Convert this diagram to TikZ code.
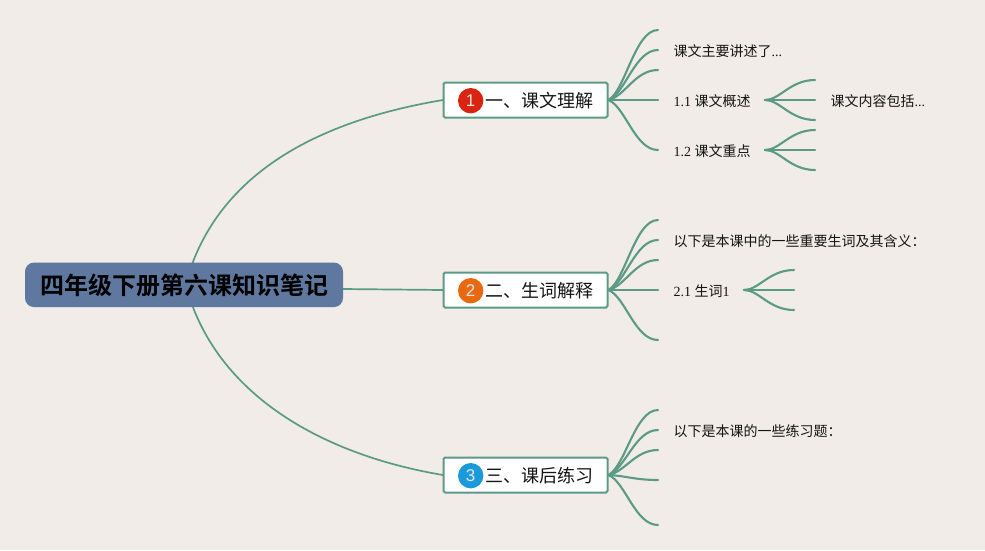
\documentclass[tikz,border=0pt]{standalone}
\usepackage{fontspec}
\usetikzlibrary{calc}
\setmainfont{Liberation Serif}
\newfontfamily\cjk{Noto Sans CJK SC}
\newfontfamily\cjkbold{Noto Sans CJK SC Bold}
\newfontfamily\numfont{Liberation Sans}
\definecolor{bgc}{HTML}{F1ECE7}
\definecolor{linec}{HTML}{5B9A87}
\definecolor{rootc}{HTML}{5F789F}
\definecolor{inkc}{HTML}{141414}
\definecolor{redc}{HTML}{DB2410}
\definecolor{orangec}{HTML}{E8690F}
\definecolor{bluec}{HTML}{1A9ADB}
\newcommand{\lowered}[2]{\raisebox{-#1}[0pt][0pt]{#2}}
\newcommand{\topiclabel}[1]{\hspace{27pt}\lowered{7.2pt}{#1}}
\tikzset{
  rootbox/.style={fill=rootc,rounded corners=9pt,minimum width=318pt,minimum height=44.5pt,inner sep=0pt,
    font=\fontsize{24}{24}\selectfont\cjkbold,text=black},
  topicbox/.style={draw=linec,fill=white,line width=2pt,rounded corners=1.5pt,minimum width=164pt,minimum height=35pt,inner sep=0pt,
    font=\fontsize{18}{18}\selectfont\cjk,text=inkc},
  badge/.style={circle,minimum size=25.4pt,inner sep=0pt,text=white!90!black,font=\fontsize{17}{17}\selectfont\numfont},
  leaftext/.style={anchor=base west,inner sep=0pt,font=\fontsize{14}{14}\selectfont,text=inkc},
  mainline/.style={draw=linec,line width=1.7pt},
  branchline/.style={draw=linec,line width=2.1pt,line cap=round},
}
\begin{document}
\begin{tikzpicture}[x=1pt,y=-1pt]
\useasboundingbox (0,0) rectangle (985,550);
\fill[bgc] (0,0) rectangle (985,550);

\coordinate (rootTop) at (192.5,263);
\coordinate (rootBot) at (192.5,306);
\coordinate (rootRight) at (343,289);

\draw[mainline] (rootTop) .. controls (231,162) and (335,118) .. (443,100) coordinate (t1in);
\draw[mainline] (rootRight) -- (443,290) coordinate (t2in);
\draw[mainline] (rootBot) .. controls (230,405) and (335,457) .. (443,475) coordinate (t3in);

\node[rootbox] (root) at (184,284.8) {\lowered{10pt}{四年级下册第六课知识笔记}};
\node[topicbox] (t1) at (525.5,100) {\topiclabel{一、课文理解}};
\node[topicbox] (t2) at (525.5,290) {\topiclabel{二、生词解释}};
\node[topicbox] (t3) at (525.5,475) {\topiclabel{三、课后练习}};
\node[badge,fill=redc] (b1) at (470.7,100.7) {1};
\node[badge,fill=orangec] (b2) at (470.7,290.7) {2};
\node[badge,fill=bluec] (b3) at (470.7,475.7) {3};

\foreach \nm/\yy in {a/30,b/50,c/70,d/100,e/150}{\coordinate (t1\nm) at (658,\yy);}
\foreach \nm/\yy in {a/220,b/240,c/260,d/290,e/340}{\coordinate (t2\nm) at (658,\yy);}
\foreach \nm/\yy in {a/410,b/430,c/450,d/480,e/525}{\coordinate (t3\nm) at (658,\yy);}
\foreach \nm/\xx/\yy in {p/815/80,q/815/100,r/815/120,s/815/130,t/815/150,u/815/170,v/794/270,w/794/290,x/794/310}{\coordinate (l\nm) at (\xx,\yy);}
\coordinate (o11) at (765,100);
\coordinate (o12) at (765,150);
\coordinate (o21) at (744,290);

% first-level fans: the curve leaves the box already turned toward its end
\foreach \t in {t1,t2,t3}{
  \foreach \nm in {a,b,c,d,e}{
    \draw[branchline] let \p1=(\t.east), \p2=(\t\nm) in
      (\p1) .. controls (\x1+17pt,{\y1+0.14*(\y2-\y1)}) and (\x2-23pt,\y2) .. (\p2);
  }
}
\foreach \o/\l in {o11/p,o11/q,o11/r,o12/s,o12/t,o12/u,o21/v,o21/w,o21/x}{
  \draw[branchline] (\o) .. controls ($(\o)+(15,0)$) and ($(l\l)+(-25,0)$) .. (l\l);
}

\node[leaftext] (n1) at (673.5,56) {\cjk 课文主要讲述了\rmfamily...};
\node[leaftext] (n2) at (673.5,106) {1.1 \cjk 课文概述};
\node[leaftext] (n3) at (673.5,156) {1.2 \cjk 课文重点};
\node[leaftext] (n4) at (830.5,106) {\cjk 课文内容包括\rmfamily...};
\node[leaftext] (n5) at (673.5,246) {\cjk 以下是本课中的一些重要生词及其含义：};
\node[leaftext] (n6) at (673.5,296) {2.1 \cjk 生词\rmfamily 1};
\node[leaftext] (n7) at (673.5,436) {\cjk 以下是本课的一些练习题：};
\end{tikzpicture}
\end{document}
